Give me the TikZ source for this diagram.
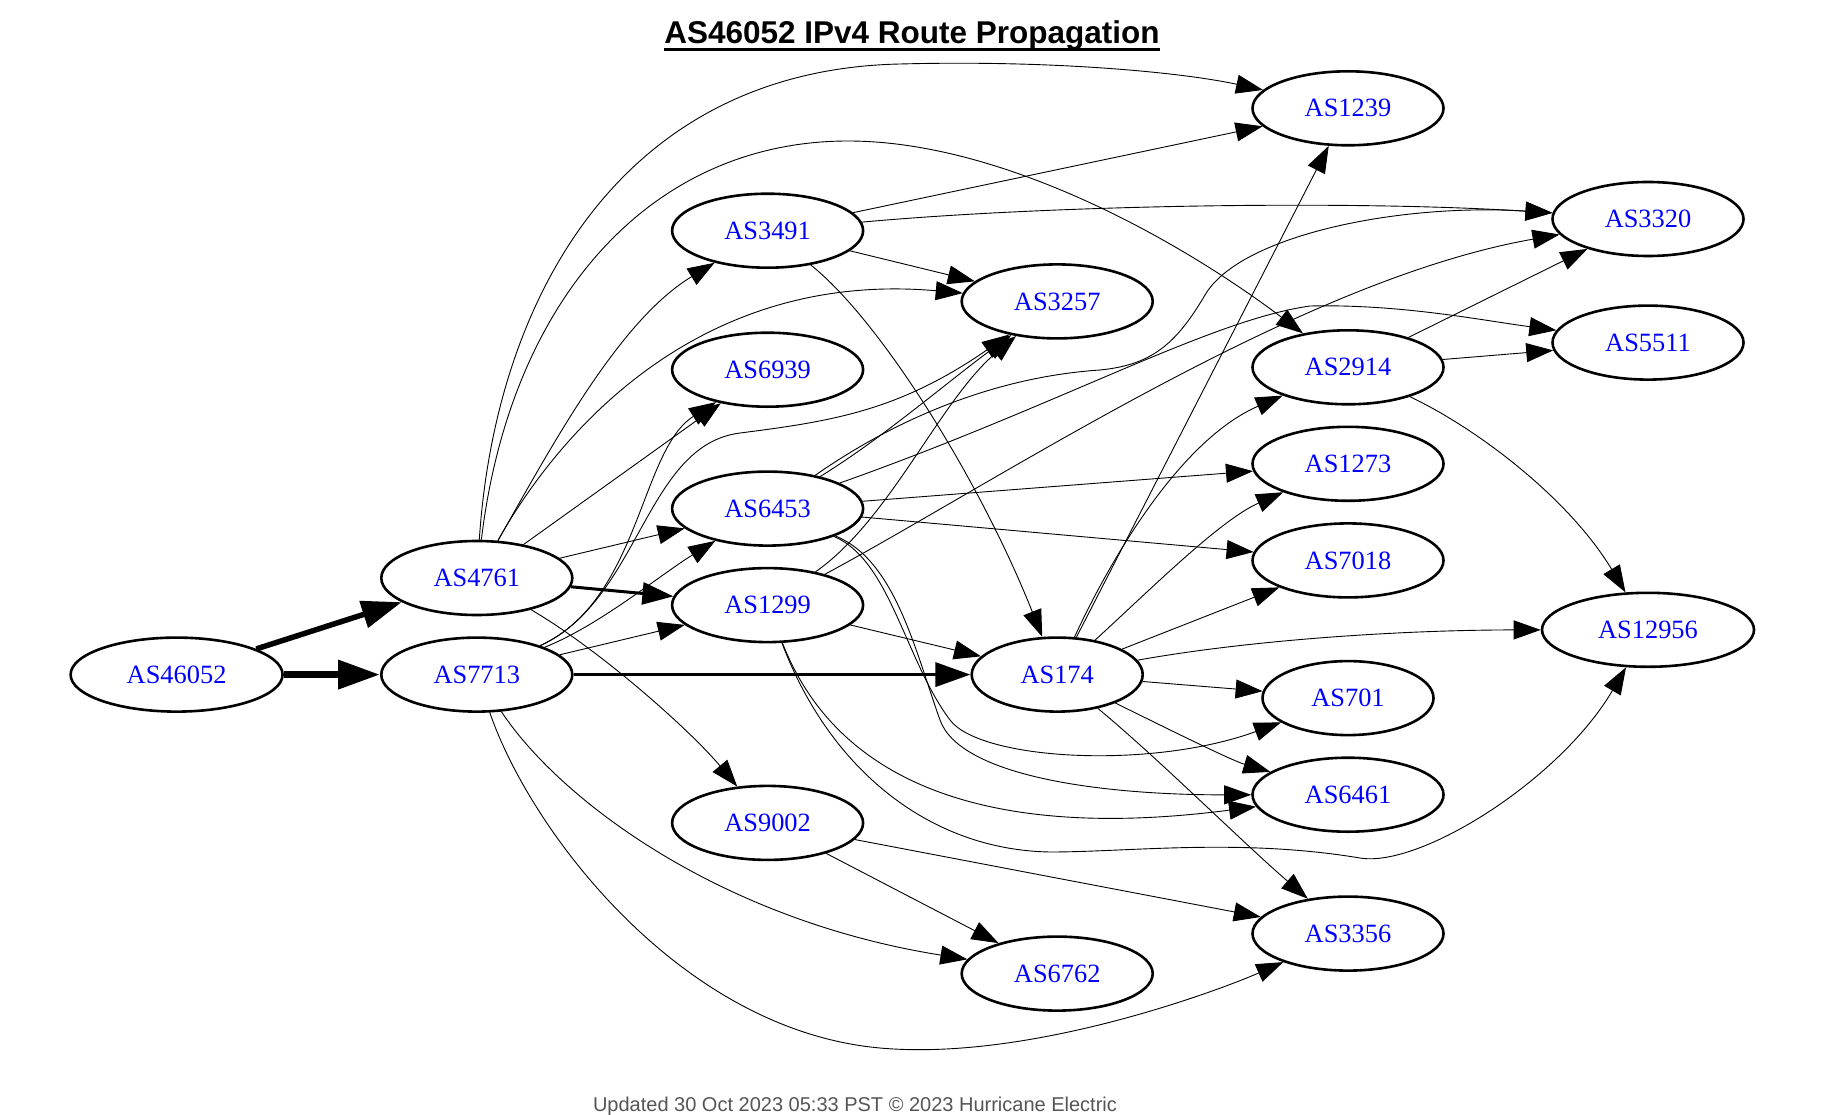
\documentclass[tikz,border=0pt]{standalone}
\usepackage{fontspec}
\usetikzlibrary{shapes.geometric,arrows.meta}
\newfontfamily\asserif{Liberation Serif}
\newfontfamily\assans{Liberation Sans}
\definecolor{asblue}{RGB}{0,0,255}
\definecolor{footgray}{RGB}{85,85,85}
\begin{document}
\begin{tikzpicture}[x=1pt,y=-1pt,
  asnode/.style={ellipse, draw=black, line width=2.6pt, minimum width=191pt, minimum height=74pt,
    inner sep=0pt, text=asblue, font=\asserif\fontsize{26.4pt}{30pt}\selectfont},
  wide/.style={minimum width=212pt},
  narrow/.style={minimum width=171pt},
  conn/.style={draw=black, line width=0.9pt, -{Triangle[length=27pt,width=19pt]}},
  connA/.style={draw=black, line width=7pt, -{Triangle[length=42pt,width=28pt]}},
  connB/.style={draw=black, line width=5.5pt, -{Triangle[length=40pt,width=27pt]}},
  connC/.style={draw=black, line width=3.5pt, -{Triangle[length=35pt,width=24pt]}},
  connD/.style={draw=black, line width=3pt, -{Triangle[length=31pt,width=22pt]}}]
\fill[white] (0,0) rectangle (1846,1115);
\useasboundingbox (0,0) rectangle (1846,1115);

% title and footer
\node[anchor=base, inner sep=0pt, font=\assans\bfseries\fontsize{31.5pt}{36pt}\selectfont] (title) at (912,43.5) {AS46052 IPv4 Route Propagation};
\draw[line width=3pt] ([yshift=-6.5pt]title.base west) -- ([yshift=-6.5pt]title.base east);
\node[anchor=base, inner sep=0pt, text=footgray, font=\assans\fontsize{20pt}{24pt}\selectfont] (footer) at (855,1111) {Updated 30 Oct 2023 05:33 PST © 2023 Hurricane Electric};

% nodes
\node[asnode,wide] (AS46052) at (176.6,674.6) {AS46052};
\node[asnode] (AS4761) at (476.8,578) {AS4761};
\node[asnode] (AS7713) at (476.8,674.6) {AS7713};
\node[asnode] (AS3491) at (767.6,230.7) {AS3491};
\node[asnode] (AS6939) at (767.6,369.7) {AS6939};
\node[asnode] (AS6453) at (767.6,508.6) {AS6453};
\node[asnode] (AS1299) at (767.6,605.1) {AS1299};
\node[asnode] (AS9002) at (767.6,822.9) {AS9002};
\node[asnode] (AS3257) at (1057.2,301.4) {AS3257};
\node[asnode,narrow] (AS174) at (1057.2,674.6) {AS174};
\node[asnode] (AS6762) at (1057.2,973.6) {AS6762};
\node[asnode] (AS1239) at (1348,108.3) {AS1239};
\node[asnode] (AS2914) at (1348,367.3) {AS2914};
\node[asnode] (AS1273) at (1348,463.8) {AS1273};
\node[asnode] (AS7018) at (1348,560.4) {AS7018};
\node[asnode,narrow] (AS701) at (1348,698.1) {AS701};
\node[asnode] (AS6461) at (1348,794.7) {AS6461};
\node[asnode] (AS3356) at (1348,933.6) {AS3356};
\node[asnode] (AS3320) at (1648,219) {AS3320};
\node[asnode] (AS5511) at (1648,342.6) {AS5511};
\node[asnode,wide] (AS12956) at (1648,629.8) {AS12956};

% thick edges
\draw[connA] (AS46052) -- (AS7713);
\draw[connB] (AS46052) -- (AS4761);
\draw[connC] (AS7713) -- (AS174);
\draw[connD] (AS4761) -- (AS1299);

% AS4761
\draw[conn] (AS4761) .. controls (495,300) and (620,70) .. (900,64) .. controls (1050,60) and (1180,72) .. (AS1239);
\draw[conn] (AS4761) .. controls (510,300) and (650,141) .. (848,141) .. controls (1000,141) and (1175,237) .. (AS2914);
\draw[conn] (AS4761) .. controls (555,440) and (620,320) .. (AS3491);
\draw[conn] (AS4761) .. controls (560,430) and (700,270) .. (AS3257);
\draw[conn] (AS4761) -- (AS6939);
\draw[conn] (AS4761) -- (AS6453);
\draw[conn] (AS4761) .. controls (600,650) and (690,730) .. (AS9002);

% AS7713
\draw[conn] (AS7713) .. controls (640,600) and (640,450) .. (AS6939);
\draw[conn] (AS7713) .. controls (640,600) and (645,445) .. (740,433) .. controls (835,421) and (900,410) .. (AS3257);
\draw[conn] (AS7713) .. controls (600,625) and (660,575) .. (AS6453);
\draw[conn] (AS7713) -- (AS1299);
\draw[conn] (AS7713) .. controls (560,800) and (720,920) .. (AS6762);
\draw[conn] (AS7713) .. controls (530,830) and (680,1030) .. (880,1048) .. controls (1030,1061.5) and (1220,990) .. (AS3356);

% AS3491
\draw[conn] (AS3491) -- (AS1239);
\draw[conn] (AS3491) .. controls (1050,205) and (1350,200) .. (AS3320);
\draw[conn] (AS3491) -- (AS3257);
\draw[conn] (AS3491) .. controls (880,320) and (980,480) .. (AS174);

% AS6453
\draw[conn] (AS6453) .. controls (880,440) and (950,380) .. (AS3257);
\draw[conn] (AS6453) .. controls (880,430) and (980,378) .. (1100,370) .. controls (1150,365) and (1175,346) .. (1205,295) .. controls (1240,235) and (1400,203) .. (AS3320);
\draw[conn] (AS6453) .. controls (1060,405) and (1210,320) .. (1310,306) .. controls (1400,304) and (1480,320) .. (AS5511);
\draw[conn] (AS6453) -- (AS1273);
\draw[conn] (AS6453) -- (AS7018);
\draw[conn] (AS6453) .. controls (890,560) and (905,660) .. (950,720) .. controls (980,760) and (1150,770) .. (AS701);
\draw[conn] (AS6453) .. controls (895,560) and (915,650) .. (940,720) .. controls (960,776) and (1100,795) .. (AS6461);

% AS1299
\draw[conn] (AS1299) .. controls (890,520) and (940,400) .. (AS3257);
\draw[conn] (AS1299) .. controls (1000,480) and (1300,280) .. (AS3320);
\draw[conn] (AS1299) -- (AS174);
\draw[conn] (AS1299) .. controls (840,790) and (1000,840) .. (AS6461);
\draw[conn] (AS1299) .. controls (830,770) and (930,850) .. (1050,852) .. controls (1130,852) and (1240,838) .. (1360,858) .. controls (1420,868) and (1560,780) .. (AS12956);

% AS174
\draw[conn] (AS174) -- (AS1239);
\draw[conn] (AS174) .. controls (1110,560) and (1180,440) .. (AS2914);
\draw[conn] (AS174) .. controls (1150,590) and (1220,520) .. (AS1273);
\draw[conn] (AS174) -- (AS7018);
\draw[conn] (AS174) .. controls (1250,640) and (1400,630) .. (AS12956);
\draw[conn] (AS174) -- (AS701);
\draw[conn] (AS174) .. controls (1150,720) and (1230,760) .. (AS6461);
\draw[conn] (AS174) .. controls (1160,760) and (1240,840) .. (AS3356);

% AS9002
\draw[conn] (AS9002) -- (AS6762);
\draw[conn] (AS9002) -- (AS3356);

% AS2914
\draw[conn] (AS2914) -- (AS3320);
\draw[conn] (AS2914) -- (AS5511);
\draw[conn] (AS2914) .. controls (1480,430) and (1570,500) .. (AS12956);
\end{tikzpicture}
\end{document}
